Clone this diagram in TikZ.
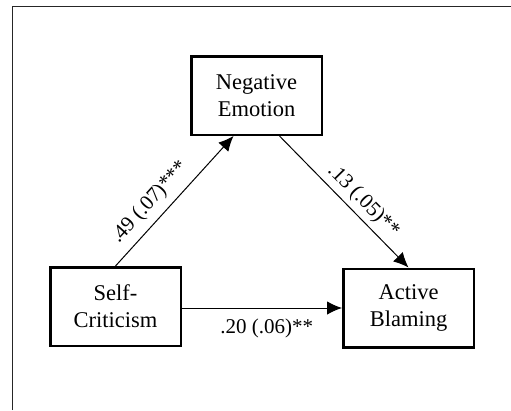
\documentclass[tikz,border=0pt]{standalone}
\usepackage{fontspec}
\setmainfont{Liberation Serif}
\usetikzlibrary{arrows.meta}

\begin{document}
\begin{tikzpicture}[x=1pt, y=-1pt,
    var/.style={draw, line width=2.5pt, minimum width=130.5pt, minimum height=78.5pt,
                align=center, inner sep=0pt, font=\fontsize{22.5}{27}\selectfont},
    path/.style={-{Latex[length=15pt, width=13.5pt]}, line width=1pt},
    coef/.style={font=\fontsize{21}{25}\selectfont}
  ]
    \useasboundingbox (0,0) rectangle (511,410);
    \draw[line width=1.3pt, black!85] (12.5,410) -- (12.5,6.5) -- (511,6.5);

    \node[var] (ne) at (256.5,95.5) {Negative\\Emotion};
    \node[var] (sc) at (115.5,306.5) {Self-\\Criticism};
    \node[var] (ab) at (408.5,308) {Active\\Blaming};

    \draw[path] (sc.north) -- node[coef, pos=0.4, sloped, above=4pt] {.49 (.07)***} ([xshift=-23pt]ne.south);
    \draw[path] ([xshift=23pt]ne.south) -- node[coef, pos=0.57, sloped, above=1pt] {.13 (.05)**} (ab.north);
    \draw[path] (sc.east |- ab.west) -- node[coef, pos=0.53, below=7.5pt] {.20 (.06)**} (ab.west);
  \end{tikzpicture}
\end{document}
